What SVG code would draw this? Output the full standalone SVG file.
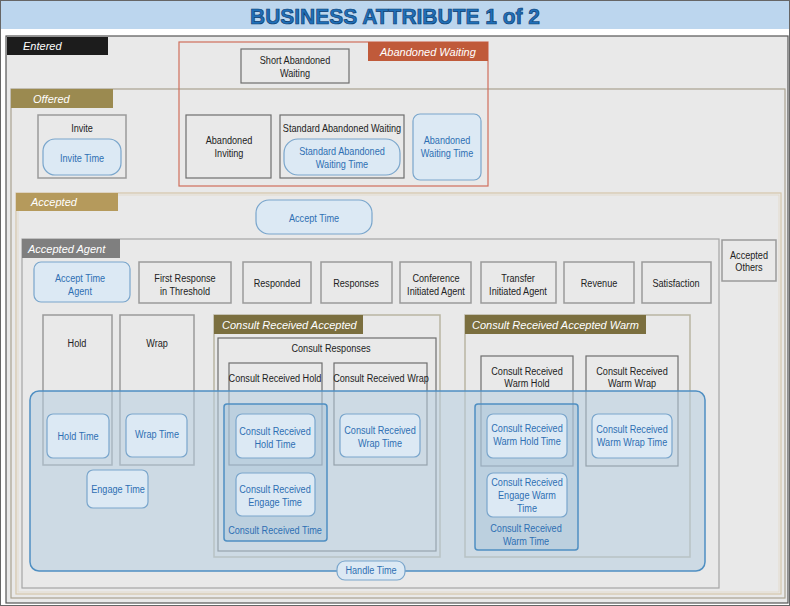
<svg xmlns="http://www.w3.org/2000/svg" width="790" height="606" viewBox="0 0 790 606">
<style>
.t{font-family:"Liberation Sans",Arial,sans-serif;font-size:11px;fill:#222;text-anchor:middle;transform-box:fill-box;transform-origin:center;transform:scaleX(0.83)}
.b{fill:#2e6fb3}
.lab{font-family:"Liberation Sans",Arial,sans-serif;font-size:11px;font-style:italic;fill:#fff}
.box{fill:none;stroke:#6e6e6e;stroke-width:1.2}
.lbox{fill:none;stroke:#9a9a9a;stroke-width:1.5}
.pill{fill:#dce9f4;stroke:#7aa6cc;stroke-width:1.2}
.blue{fill:#9fbdd6;fill-opacity:0.35;stroke:#4f8fc2;stroke-width:1.5}
</style>
<rect x="0" y="0" width="790" height="606" fill="#fff"/>
<rect x="0.5" y="0.5" width="789" height="605" fill="none" stroke="#666"/>
<g id="title">
<rect x="1" y="1" width="788" height="28" fill="#bcd6ee"/>
<text x="250" y="24" font-family="Liberation Sans,Arial,sans-serif" font-weight="bold" font-size="22" fill="#1f6fb8" stroke="#0d3d70" stroke-width="0.7" textLength="290" lengthAdjust="spacingAndGlyphs">BUSINESS ATTRIBUTE 1 of 2</text>
</g>
<g id="entered">
<rect x="6" y="36" width="782" height="567" fill="#e9e9e9" stroke="#555" stroke-width="1.2"/>
<rect x="7" y="37" width="101" height="18" fill="#1c1c1c"/>
<text class="lab" x="23" y="50">Entered</text>
</g>
<g id="offered">
<rect x="11" y="89" width="774" height="509" fill="none" stroke="#aaa291" stroke-width="1.2"/>
<rect x="11" y="89" width="102" height="19" fill="#9b8a50"/>
<text class="lab" x="33" y="103">Offered</text>
</g>
<g id="accepted">
<rect x="16" y="193" width="765" height="401" fill="none" stroke="#d6c6aa" stroke-width="1.2"/>
<rect x="18" y="195" width="761" height="397" fill="none" stroke="#e2d8c6" stroke-width="0.8"/>
<rect x="16" y="193" width="102" height="18" fill="#b59a5c"/>
<text class="lab" x="31" y="206">Accepted</text>
</g>
<g id="accepted-agent">
<rect x="22" y="239" width="697" height="349" fill="none" stroke="#a6a6a6" stroke-width="1.2"/>
<rect x="22" y="239" width="98" height="19" fill="#7f7f7f"/>
<text class="lab" x="28" y="253">Accepted Agent</text>
</g>
<g id="abandoned-waiting">
<rect x="179" y="42" width="309" height="144" fill="none" stroke="#d06f5c" stroke-width="1.2"/>
<rect x="368" y="42" width="120" height="19" fill="#c05a3a"/>
<text class="lab" x="380" y="56">Abandoned Waiting</text>
</g>
<g id="short-abandoned-waiting">
<rect class="box" x="241" y="49" width="108" height="34"/>
<text class="t" x="295" y="64">Short Abandoned</text>
<text class="t" x="295" y="77">Waiting</text>
</g>
<g id="abandoned-inviting">
<rect class="box" x="186" y="115" width="85" height="63"/>
<text class="t" x="229" y="144">Abandoned</text>
<text class="t" x="229" y="157">Inviting</text>
</g>
<g id="standard-abandoned-waiting">
<rect class="box" x="280" y="115" width="124" height="63"/>
<text class="t" x="342" y="132">Standard Abandoned Waiting</text>
</g>
<g id="standard-abandoned-waiting-time">
<rect class="pill" x="284" y="139" width="116" height="36" rx="14"/>
<text class="t b" x="342" y="155">Standard Abandoned</text>
<text class="t b" x="342" y="168">Waiting Time</text>
</g>
<g id="abandoned-waiting-time">
<rect class="pill" x="413" y="114" width="68" height="66" rx="7"/>
<text class="t b" x="447" y="144">Abandoned</text>
<text class="t b" x="447" y="157">Waiting Time</text>
</g>
<g id="invite">
<rect class="lbox" x="38" y="115" width="88" height="63"/>
<text class="t" x="82" y="132">Invite</text>
</g>
<g id="invite-time">
<rect class="pill" x="43" y="139" width="78" height="36" rx="12"/>
<text class="t b" x="82" y="162">Invite Time</text>
</g>
<g id="accept-time">
<rect class="pill" x="256" y="200" width="116" height="34" rx="13"/>
<text class="t b" x="314" y="222">Accept Time</text>
</g>
<g id="accept-time-agent">
<rect class="pill" x="34" y="262" width="96" height="40" rx="7"/>
<text class="t b" x="80" y="282">Accept Time</text>
<text class="t b" x="80" y="295">Agent</text>
</g>
<g id="first-response">
<rect class="lbox" x="139" y="262" width="92" height="41"/>
<text class="t" x="185" y="282">First Response</text>
<text class="t" x="185" y="295">in Threshold</text>
</g>
<g id="responded">
<rect class="lbox" x="243" y="262" width="68" height="41"/>
<text class="t" x="277" y="287">Responded</text>
</g>
<g id="responses">
<rect class="lbox" x="321" y="262" width="71" height="41"/>
<text class="t" x="356" y="287">Responses</text>
</g>
<g id="conference-initiated-agent">
<rect class="lbox" x="400" y="262" width="71" height="41"/>
<text class="t" x="436" y="282">Conference</text>
<text class="t" x="436" y="295">Initiated Agent</text>
</g>
<g id="transfer-initiated-agent">
<rect class="lbox" x="481" y="262" width="75" height="41"/>
<text class="t" x="518" y="282">Transfer</text>
<text class="t" x="518" y="295">Initiated Agent</text>
</g>
<g id="revenue">
<rect class="lbox" x="564" y="262" width="70" height="41"/>
<text class="t" x="599" y="287">Revenue</text>
</g>
<g id="satisfaction">
<rect class="lbox" x="642" y="262" width="69" height="41"/>
<text class="t" x="676" y="287">Satisfaction</text>
</g>
<g id="accepted-others">
<rect class="lbox" x="722" y="240" width="54" height="41"/>
<text class="t" x="749" y="259">Accepted</text>
<text class="t" x="749" y="271">Others</text>
</g>
<g id="hold">
<rect class="lbox" x="43" y="315" width="69" height="150"/>
<text class="t" x="77" y="347">Hold</text>
</g>
<g id="wrap">
<rect class="lbox" x="120" y="315" width="74" height="150"/>
<text class="t" x="157" y="347">Wrap</text>
</g>
<g id="consult-received-accepted">
<rect x="214" y="315" width="226" height="242" fill="none" stroke="#b9b5a2" stroke-width="1.5"/>
<rect x="214" y="315" width="149" height="19" fill="#7b6f3f"/>
<text class="lab" x="222" y="329">Consult Received Accepted</text>
</g>
<g id="consult-responses">
<rect class="box" x="218" y="338" width="218" height="213"/>
<text class="t" x="331" y="352">Consult Responses</text>
</g>
<g id="consult-received-hold">
<rect class="box" x="229" y="363" width="93" height="102" stroke="#858585" stroke-width="1.5"/>
<text class="t" x="275" y="382">Consult Received Hold</text>
</g>
<g id="consult-received-wrap">
<rect class="box" x="334" y="363" width="93" height="102" stroke="#858585" stroke-width="1.5"/>
<text class="t" x="381" y="382">Consult Received Wrap</text>
</g>
<g id="consult-received-accepted-warm">
<rect x="465" y="315" width="225" height="242" fill="none" stroke="#b9b5a2" stroke-width="1.5"/>
<rect x="465" y="315" width="181" height="19" fill="#7b6f3f"/>
<text class="lab" x="472" y="329">Consult Received Accepted Warm</text>
</g>
<g id="consult-received-warm-hold">
<rect class="box" x="481" y="356" width="92" height="110"/>
<text class="t" x="527" y="375">Consult Received</text>
<text class="t" x="527" y="387">Warm Hold</text>
</g>
<g id="consult-received-warm-wrap">
<rect class="box" x="586" y="356" width="92" height="110"/>
<text class="t" x="632" y="375">Consult Received</text>
<text class="t" x="632" y="387">Warm Wrap</text>
</g>
<g id="handle-time">
<rect x="30" y="391" width="675" height="180" rx="9" fill="#b7cde0" fill-opacity="0.55" stroke="#4f8fc2" stroke-width="1.5"/>
<rect class="pill" x="337" y="561" width="68" height="19" rx="8" stroke="#4f8fc2"/>
<text class="t b" x="371" y="574">Handle Time</text>
</g>
<g id="consult-received-time">
<rect class="blue" x="224" y="404" width="103" height="137" rx="3"/>
<text class="t b" x="275" y="534">Consult Received Time</text>
</g>
<g id="consult-received-warm-time">
<rect class="blue" x="475" y="404" width="103" height="146" rx="3"/>
<text class="t b" x="526" y="532">Consult Received</text>
<text class="t b" x="526" y="545">Warm Time</text>
</g>
<g id="hold-time">
<rect class="pill" x="47" y="414" width="62" height="44" rx="6"/>
<text class="t b" x="78" y="440">Hold Time</text>
</g>
<g id="wrap-time">
<rect class="pill" x="126" y="414" width="61" height="43" rx="6"/>
<text class="t b" x="157" y="438">Wrap Time</text>
</g>
<g id="engage-time">
<rect class="pill" x="87" y="470" width="61" height="38" rx="6"/>
<text class="t b" x="118" y="493">Engage Time</text>
</g>
<g id="consult-received-hold-time">
<rect class="pill" x="236" y="414" width="79" height="44" rx="6"/>
<text class="t b" x="275" y="435">Consult Received</text>
<text class="t b" x="275" y="448">Hold Time</text>
</g>
<g id="consult-received-wrap-time">
<rect class="pill" x="340" y="414" width="80" height="43" rx="6"/>
<text class="t b" x="380" y="434">Consult Received</text>
<text class="t b" x="380" y="447">Wrap Time</text>
</g>
<g id="consult-received-engage-time">
<rect class="pill" x="236" y="473" width="79" height="43" rx="6"/>
<text class="t b" x="275" y="493">Consult Received</text>
<text class="t b" x="275" y="506">Engage Time</text>
</g>
<g id="consult-received-warm-hold-time">
<rect class="pill" x="487" y="414" width="80" height="44" rx="6"/>
<text class="t b" x="527" y="432">Consult Received</text>
<text class="t b" x="527" y="445">Warm Hold Time</text>
</g>
<g id="consult-received-warm-wrap-time">
<rect class="pill" x="592" y="414" width="80" height="44" rx="6"/>
<text class="t b" x="632" y="433">Consult Received</text>
<text class="t b" x="632" y="446">Warm Wrap Time</text>
</g>
<g id="consult-received-engage-warm-time">
<rect class="pill" x="487" y="473" width="80" height="44" rx="6"/>
<text class="t b" x="527" y="486">Consult Received</text>
<text class="t b" x="527" y="499">Engage Warm</text>
<text class="t b" x="527" y="512">Time</text>
</g>
<g id="connectors"></g>
</svg>
